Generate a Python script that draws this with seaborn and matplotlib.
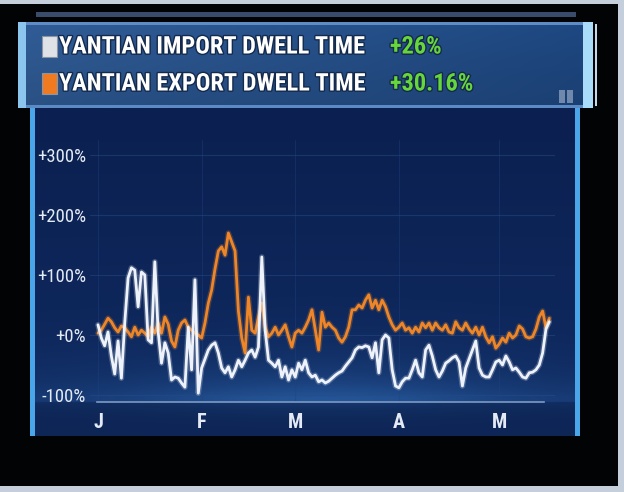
import numpy as np
import pandas as pd
import matplotlib
matplotlib.use('Agg')
import matplotlib.pyplot as plt
import matplotlib.dates as mdates
import matplotlib.patheffects as pe
from matplotlib.patches import Rectangle
import seaborn as sns

# daily % change in dwell time, Jan 1 .. May 16
import_dwell = [
    17, -5, -18, 5, -35, -65, -10, -72, 20, 95, 112, 108, 47, 105, 100, -8,
    -13, 122, 5, -47, -13, -30, -75, -70, -72, -80, -87, 13, -58, 92, -97,
    -55, -40, -25, -17, -13, -30, -55, -63, -53, -70, -58, -42, -53, -42, -30,
    -25, -37, -20, 130, 8, -42, -47, -53, -42, -70, -53, -75, -58,
    -70, -47, -58, -42, -63, -70, -67, -78, -75, -80, -77, -72, -67, -63, -60,
    -52, -45, -38, -25, -20, -21, -18, -20, -38, -13, -63, -8, 0, -5, -58, -85,
    -88, -78, -72, -72, -58, -42, -63, -70, -25, -17, -35, -58, -70, -60, -47,
    -43, -38, -35, -45, -85, -55, -40, -25, -10, -55, -67, -70, -70, -58, -45,
    -42, -50, -35, -45, -58, -55, -62, -70, -72, -63, -62, -58, -50, -30, 10, 22,
]
export_dwell = [
    3, 8, 18, 28, 22, 12, 5, 15, 12, 5, -3, 13, 0, 8, 3, -3, 13, 3, 20, 3,
    30, 18, -10, -20, 8, 20, 25, 13, 8, 3, 0,
    -5, 20, 53, 75, 110, 140, 147, 133, 170, 155, 140, 40, -5, -30, 63, 8, 3,
    30, 53, 13, -3, 3, 13, 0, 8, 17, -3, -20,
    3, 8, 3, 13, 25, 42, 8, -25, 38, 13, 20, 13, 8, -5, -12, -3, 13, 42, 42,
    50, 45, 58, 67, 45, 58, 42, 58, 47, 30, 17, 8,
    13, 20, 8, 12, 3, 13, 5, 20, 12, 20, 8, 20, 12, 8, 17, 5, 3, 22, 12, 8,
    20, 10, 3, 13, 0, 13, -3, -13, -3, -22,
    -15, -5, -12, 3, -5, 0, 15, 10, -3, -5, -3, 10, 30, 40, 12, 28,
]
series_names = ['YANTIAN IMPORT DWELL TIME', 'YANTIAN EXPORT DWELL TIME']
series_changes = ['+26%', '+30.16%']
month_starts = ['2021-01-01', '2021-02-01', '2021-03-01', '2021-04-01', '2021-05-01']
month_labels = ['J', 'F', 'M', 'A', 'M']
y_ticks = [-100, 0, 100, 200, 300]
y_labels = ['-100%', '+0%', '+100%', '+200%', '+300%']

dates = pd.date_range('2021-01-01', periods=len(import_dwell), freq='D')
df = pd.DataFrame({'date': dates,
                   series_names[0]: import_dwell,
                   series_names[1]: export_dwell})
long_df = df.melt(id_vars='date', var_name='series', value_name='change')

colors = {series_names[0]: '#eef2fa', series_names[1]: '#ee8628'}

sns.set_style('dark')
plt.rcParams['font.family'] = ['Roboto Condensed', 'DejaVu Sans']

fig = plt.figure(figsize=(6.24, 4.92), dpi=100, facecolor='black')

# background drawn in pixel coordinates
bg = fig.add_axes([0, 0, 1, 1])
bg.set_xlim(0, 624)
bg.set_ylim(492, 0)
bg.axis('off')
bg.set_zorder(0)

bg.add_patch(Rectangle((0, 0), 624, 492, facecolor='#c5cfdc', edgecolor='none'))
bg.add_patch(Rectangle((0, 4), 618, 482, facecolor='#020304', edgecolor='none'))

# panel gradient
xs = np.linspace(35, 578, 272)
ys = np.linspace(108, 436, 164)
X, Y = np.meshgrid(xs, ys)
top = np.array([11, 32, 80]) / 255
bot = np.array([15, 42, 96]) / 255
glowc = np.array([40, 92, 160]) / 255
t = ((Y - 108) / (436 - 108))[..., None]
base = top + (bot - top) * t
hshape = 0.3 + 0.7 * np.exp(-((X - 320) / 190) ** 2)
glow_up = np.exp(-np.clip(398 - Y, 0, None) / 28.0) * (Y <= 403)
glow = (glow_up * hshape)[..., None]
img = base + (glowc - base) * glow * 0.85
low = ((Y > 403) * np.exp(-(Y - 403) / 10.0) * hshape * 0.35)[..., None]
img = np.where((Y > 403)[..., None], base * 0.9 + (glowc - base * 0.9) * low, img)
bg.imshow(np.clip(img, 0, 1), extent=[35, 578, 436, 108], aspect='auto', zorder=1)
bg.add_patch(Rectangle((30, 108), 5, 328, facecolor='#4aa6e8', edgecolor='none', zorder=2))
bg.add_patch(Rectangle((575, 108), 5, 328, facecolor='#4aa6e8', edgecolor='none', zorder=2))

# header box
bg.add_patch(Rectangle((36, 12), 540, 5, facecolor='#3a4c6c', edgecolor='none', zorder=2))
hx = np.linspace(0, 1, 200)
hy = np.linspace(0, 1, 40)
HX, HY = np.meshgrid(hx, hy)
hl = np.array([48, 92, 150]) / 255
hr = np.array([30, 72, 130]) / 255
himg = hl + (hr - hl) * HX[..., None]
himg = himg * (1.0 - 0.12 * HY[..., None])
bg.imshow(himg, extent=[26, 584, 108, 22], aspect='auto', zorder=2)
bg.add_patch(Rectangle((26, 22), 558, 3, facecolor='#5f8cc4', edgecolor='none', zorder=3))
bg.add_patch(Rectangle((26, 105), 558, 3, facecolor='#5b8ac4', edgecolor='none', zorder=3))
bg.add_patch(Rectangle((18, 22), 8, 86, facecolor='#8cc6ee', edgecolor='none', zorder=3))
bg.add_patch(Rectangle((583, 22), 10, 86, facecolor='#a8dcf8', edgecolor='none', zorder=3))
bg.add_patch(Rectangle((595, 24), 2, 82, facecolor='#c4d8e8', edgecolor='none', zorder=3))
bg.add_patch(Rectangle((559, 90), 6, 13, facecolor='#6f88ab', edgecolor='none', zorder=3))
bg.add_patch(Rectangle((567, 90), 6, 13, facecolor='#6f88ab', edgecolor='none', zorder=3))

square_cols = ['#dfe2e6', '#f07a20']
shadow = [pe.withStroke(linewidth=2, foreground='#142a4c')]
for i, (name, chg) in enumerate(zip(series_names, series_changes)):
    yc = 46 + i * 37
    bg.add_patch(Rectangle((42, yc - 10), 15, 21, facecolor=square_cols[i],
                           edgecolor='#8a96a6', lw=0.8, zorder=4))
    bg.text(59, yc + 1, name, fontsize=17.5, fontweight='bold', color='white',
            va='center', ha='left', zorder=5, path_effects=shadow)
    bg.text(390, yc + 1, chg, fontsize=17.5, fontweight='bold', color='#66d63a',
            va='center', ha='left', zorder=5, path_effects=shadow)

# chart axes: x px = 98 + 3.342*day, y px = 335 - 0.6*value
ax = fig.add_axes([90 / 624, 1 - 402 / 492, 465 / 624, 262 / 492])
ax.set_zorder(2)
ax.patch.set_alpha(0)
start = pd.Timestamp('2021-01-01')
ax.set_xlim(start - pd.Timedelta(days=2.39), start + pd.Timedelta(days=136.7))
ax.set_ylim(-111.7, 325)

for s in [series_names[1], series_names[0]]:
    sub = long_df[long_df['series'] == s]
    sns.lineplot(data=sub, x='date', y='change', color=colors[s], linewidth=2.0,
                 ax=ax, legend=False,
                 path_effects=[pe.Stroke(linewidth=4, foreground=colors[s], alpha=0.25),
                               pe.Normal()])

ax.set_xticks(pd.to_datetime(month_starts))
ax.set_xticklabels(month_labels)
ax.set_yticks(y_ticks)
ax.set_yticklabels(y_labels)
ax.set_xlabel('')
ax.set_ylabel('')
for sp in ['top', 'right', 'left']:
    ax.spines[sp].set_visible(False)
ax.spines['bottom'].set_color('#7d9ac2')
ax.spines['bottom'].set_linewidth(1.2)
d0 = mdates.date2num(start)
ax.spines['bottom'].set_bounds(d0 - 0.3, d0 + 133.5)
ax.grid(axis='y', color='#274b84', linewidth=0.8, alpha=0.5)
ax.grid(axis='x', color='#1f4380', linewidth=0.8, alpha=0.4)
ax.tick_params(axis='y', colors='#b4c2d8', length=2, width=1, pad=1,
               labelcolor='#e4eaf4', labelsize=13.5)
ax.tick_params(axis='x', colors='#b4c2d8', length=3, width=1.5, pad=5,
               labelcolor='#e4eaf4', labelsize=14.5)
for lab in ax.get_xticklabels():
    lab.set_fontweight('bold')

fig.savefig('out.png', dpi=100, facecolor='black')
